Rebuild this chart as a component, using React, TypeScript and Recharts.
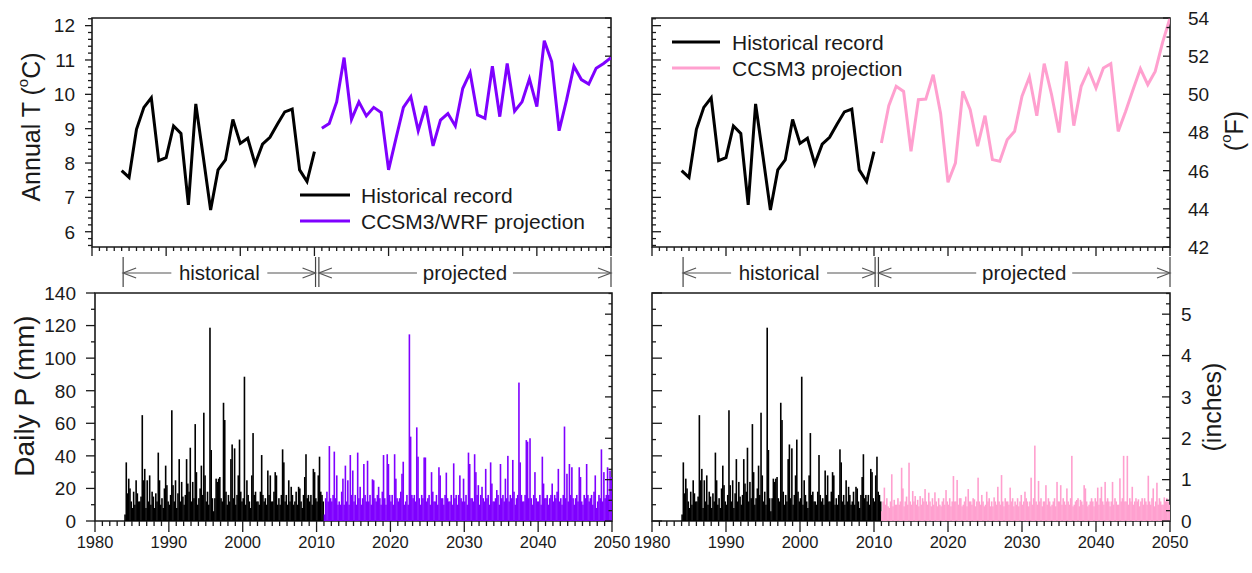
import React from 'react';
import {
  ComposedChart,
  Line,
  Bar,
  XAxis,
  YAxis,
  ReferenceArea,
  ReferenceLine,
  ReferenceDot,
  Legend,
} from 'recharts';

const FONT = "'Liberation Sans', Arial, Helvetica, sans-serif";
const INK = '#1a1a1a';
const BLACK = '#000000';
const PURPLE = '#7F00FF';
const PINK = '#FFA0CF';

// ---------------- data: annual temperature ----------------
const histYears = [1984, 1985, 1986, 1987, 1988, 1989, 1990, 1991, 1992, 1993, 1994, 1995, 1996, 1997, 1998, 1999, 2000, 2001, 2002, 2003, 2004, 2005, 2006, 2007, 2008, 2009, 2010];
const histT = [7.78, 7.58, 8.98, 9.62, 9.9, 8.07, 8.16, 9.08, 8.86, 6.78, 9.72, 8.19, 6.63, 7.8, 8.09, 9.27, 8.57, 8.72, 7.97, 8.55, 8.75, 9.13, 9.49, 9.57, 7.8, 7.46, 8.33];

const projYears = [2011, 2012, 2013, 2014, 2015, 2016, 2017, 2018, 2019, 2020, 2021, 2022, 2023, 2024, 2025, 2026, 2027, 2028, 2029, 2030, 2031, 2032, 2033, 2034, 2035, 2036, 2037, 2038, 2039, 2040, 2041, 2042, 2043, 2044, 2045, 2046, 2047, 2048, 2049, 2050];
// CCSM3/WRF projection, deg C
const wrfT = [9.01, 9.15, 9.78, 11.07, 9.27, 9.78, 9.37, 9.62, 9.47, 7.8, 8.72, 9.62, 9.93, 8.94, 9.66, 8.5, 9.25, 9.44, 9.08, 10.17, 10.63, 9.4, 9.3, 10.82, 9.35, 10.9, 9.51, 9.78, 10.45, 9.64, 11.56, 10.95, 8.94, 9.83, 10.82, 10.43, 10.3, 10.76, 10.9, 11.07];
// CCSM3 projection, deg F
const ccsmF = [47.45, 49.4, 50.42, 50.15, 47.01, 49.72, 49.75, 51.03, 49.0, 45.39, 46.4, 50.16, 49.2, 47.28, 48.88, 46.58, 46.49, 47.62, 48.06, 49.9, 50.91, 48.88, 51.61, 49.98, 48.0, 51.73, 48.36, 50.42, 51.29, 50.33, 51.38, 51.61, 48.06, 49.1, 50.24, 51.34, 50.51, 51.2, 52.72, 54.0];

// ---------------- data: daily precipitation (bi-monthly peaks, mm) ----------------
const SLOTS_PER_YEAR = 6;
const histPStart = 1984;
const histP = [
  4, 36, 17, 26, 20, 12,
  8, 18, 10, 25, 17, 12,
  12, 15, 65, 25, 32, 8,
  25, 12, 28, 10, 18, 15,
  8, 17, 12, 42, 25, 10,
  14, 8, 20, 34, 22, 12,
  10, 16, 68, 22, 12, 25,
  8, 17, 38, 12, 24, 15,
  10, 16, 38, 23, 18, 45,
  12, 24, 14, 59.5, 30, 10,
  14, 20, 34, 16, 66.5, 28,
  12, 18, 10, 118.7, 43.6, 14,
  6, 14, 26, 24, 26, 27,
  14, 12, 72.6, 62, 18, 10,
  16, 12, 38, 47, 14, 44.6,
  10, 16, 28, 50, 18, 12,
  14, 88.6, 10, 25, 16, 12,
  8, 28, 54, 16, 18, 12,
  12, 10, 18, 40.5, 16, 12,
  14, 10, 31, 16, 28, 12,
  12, 18, 30, 28, 10, 14,
  10, 16, 44, 36, 12, 16,
  10, 25, 12, 21, 16, 10,
  12, 18, 10, 21, 20, 12,
  8, 16, 27, 41, 14, 16,
  12, 16, 10, 32, 30, 14,
  12, 28, 39.5, 18, 16, 12,
];
const projPStart = 2011;
const wrfP = [
  4, 14, 18, 12, 46, 14,
  12, 16, 42.6, 14, 28, 10,
  12, 10, 18, 26, 10, 34,
  12, 25, 10, 40.5, 16, 31,
  12, 16, 10, 42, 14, 21,
  10, 14, 35, 16, 12, 37,
  12, 16, 10, 25.6, 25, 14,
  12, 16, 21, 14, 10, 18,
  40.5, 14, 10, 41, 35, 16,
  12, 16, 10, 41, 26, 14,
  12, 14, 18, 29, 36.4, 10,
  12, 16, 10, 114.6, 51.8, 16,
  14, 16, 12, 57.5, 39.5, 14,
  10, 16, 14, 39, 39, 12,
  14, 16, 10, 30, 18, 12,
  12, 16, 10, 33, 28, 14,
  14, 10, 16, 29.7, 14, 12,
  12, 16, 10, 35.4, 14, 16,
  10, 16, 28, 14, 12, 26,
  12, 16, 10, 42, 35, 14,
  14, 12, 41, 30, 16, 22,
  10, 16, 21, 14, 12, 32,
  14, 16, 10, 36, 23, 12,
  12, 14, 19, 16, 10, 35,
  14, 16, 12, 26, 14, 40,
  12, 16, 14, 37.5, 18, 10,
  14, 16, 85, 36, 16, 12,
  12, 16, 49.7, 48.7, 14, 50.8,
  14, 10, 16, 30, 14, 12,
  12, 16, 10, 39.5, 23, 14,
  14, 16, 10, 14, 16, 23,
  12, 16, 14, 18, 32, 12,
  14, 10, 16, 58, 14, 29,
  12, 35, 16, 33, 14, 10,
  14, 16, 12, 33, 27, 12,
  10, 16, 14, 35, 16, 12,
  14, 16, 10, 18, 28, 8,
  12, 16, 14, 44, 12, 30,
  14, 16, 33, 16, 31, 27,
];
const ccsmP = [
  6, 12, 20.5, 10, 14, 9,
  8, 12, 28.7, 9, 13, 10,
  10, 14, 10, 12, 32.7, 20,
  9, 12, 15, 10, 35.8, 12,
  10, 18.4, 12, 15.3, 10, 13,
  9, 15.3, 10, 14, 12, 19.6,
  12, 10, 17.4, 12, 9, 14,
  10, 17.6, 12, 9, 14, 10,
  9, 12, 14, 10, 19, 12,
  10, 14, 9, 12, 27.6, 12,
  12, 25.2, 10, 14, 14, 9,
  10, 12, 15, 9, 19.6, 12,
  12, 10, 14, 13.3, 9, 12,
  26.6, 12, 10, 16, 12, 9,
  10, 18, 12, 14, 9, 12,
  9, 14.5, 12, 10, 21, 12,
  10, 28.2, 12, 9, 14, 12,
  12, 10, 20.5, 12, 14, 9,
  12, 10, 14, 9, 12, 16,
  10, 12, 18, 14, 12, 9,
  12, 26.6, 10, 14, 46.3, 12,
  10, 24.6, 12, 14, 9, 12,
  12, 22, 10, 14, 12, 9,
  10, 12, 14, 9, 24, 12,
  12, 22, 10, 14, 12, 10,
  20, 12, 10, 14, 40, 9,
  10, 12, 12.9, 14, 9, 13,
  12, 10, 22, 20, 12, 9,
  10, 12, 14, 12, 9, 14,
  12, 20.5, 10, 14, 21, 12,
  10, 24, 12, 14, 12, 9,
  12, 24, 10, 14, 12, 10,
  10, 26.2, 12, 14, 40, 12,
  12, 40, 10, 14, 12, 21,
  10, 12, 14, 12, 13.3, 9,
  12, 14, 10, 14, 12, 10,
  27.8, 12, 10, 14, 20, 9,
  12, 23.5, 10, 14, 12, 10,
  10, 14.5, 12, 14, 12, 10,
];

// ---------------- annotations & tick labels ----------------
const periodLabels = ['historical', 'projected'];
const periodStart = [1984.2, 2010.6];
const periodEnd = [2010.15, 2050];

const decadeLabels = [1980, 1990, 2000, 2010, 2020, 2030, 2040, 2050];
const tempCLabels = [6, 7, 8, 9, 10, 11, 12];
const tempFLabels = [42, 44, 46, 48, 50, 52, 54];
const mmLabels = [0, 20, 40, 60, 80, 100, 120, 140];
const inchLabels = [0, 1, 2, 3, 4, 5];

const leftLegendOrder = ['Historical record', 'CCSM3/WRF projection'];
const rightLegendOrder = ['Historical record', 'CCSM3 projection'];

// ---------------- derived tables ----------------
const fToC = (f: number) => ((f - 32) * 5) / 9;
const X_DOMAIN: [number, number] = [1980, 2050];
const C_DOMAIN: [number, number] = [fToC(42), fToC(54)];
const F_DOMAIN: [number, number] = [42, 54];
const MM_DOMAIN: [number, number] = [0, 140];
const IN_DOMAIN: [number, number] = [0, 140 / 25.4];

const steps = (a: number, b: number, s: number) => {
  const out: number[] = [];
  for (let i = 0; a + i * s <= b + 1e-9; i++) out.push(Math.round((a + i * s) * 1000) / 1000);
  return out;
};
const yearTicks = steps(1980, 2050, 1);
const cTicks = steps(5.6, 12.2, 0.2);
const fTicks = steps(42, 54, 0.5);
const mmTicks = steps(0, 140, 10);
const inTicks = steps(0, 5.5, 0.25);
const isIn = (list: number[]) => (v: number) => list.some((l) => Math.abs(l - v) < 1e-6);

const histTData = histYears.map((year, i) => ({ year, T: histT[i] }));
const wrfTData = projYears.map((year, i) => ({ year, T: wrfT[i] }));
const ccsmTData = projYears.map((year, i) => ({ year, F: ccsmF[i] }));

const toBars = (start: number, values: number[], key: string) =>
  values.map((v, i) => ({
    t: start + Math.floor(i / SLOTS_PER_YEAR) + ((i % SLOTS_PER_YEAR) + 0.5) / SLOTS_PER_YEAR,
    [key]: v,
  }));
const bottomLeftData = [...toBars(histPStart, histP, 'hist'), ...toBars(projPStart, wrfP, 'proj')];
const bottomRightData = [...toBars(histPStart, histP, 'hist'), ...toBars(projPStart, ccsmP, 'proj')];
const annotData = periodStart.map((t) => ({ t }));

// ---------------- rendering helpers ----------------
type TickCfg = {
  side: 'left' | 'right' | 'bottom';
  inward: boolean;
  major: number;
  minor: number;
  isMajor: (v: number) => boolean;
  label?: boolean;
  gap?: number;
  fontSize?: number;
};
const makeTick = (c: TickCfg) => (props: any) => {
  const { x, y, payload } = props;
  const v = Number(payload?.value);
  const big = c.isMajor(v);
  const len = big ? c.major : c.minor;
  const show = !!c.label && big;
  const fs = c.fontSize ?? 19;
  const gap = c.gap ?? 10;
  const tp = { fontSize: fs, fontFamily: FONT, fill: INK, stroke: 'none' } as any;
  if (c.side === 'bottom') {
    return (
      <g>
        <line x1={x} y1={y} x2={x} y2={c.inward ? y - len : y + len} stroke={INK} strokeWidth={1.3} />
        {show && (
          <text x={x} y={y + gap} textAnchor="middle" {...tp}>
            {v}
          </text>
        )}
      </g>
    );
  }
  if (c.side === 'left') {
    return (
      <g>
        <line x1={x} y1={y} x2={c.inward ? x + len : x - len} y2={y} stroke={INK} strokeWidth={1.3} />
        {show && (
          <text x={x - gap} y={y} dy="0.36em" textAnchor="end" {...tp}>
            {v}
          </text>
        )}
      </g>
    );
  }
  return (
    <g>
      <line x1={x} y1={y} x2={c.inward ? x - len : x + len} y2={y} stroke={INK} strokeWidth={1.3} />
      {show && (
        <text x={x + gap} y={y} dy="0.36em" textAnchor="start" {...tp}>
          {v}
        </text>
      )}
    </g>
  );
};

const axisCommon = {
  tickLine: false,
  axisLine: false,
  tickSize: 0,
  tickMargin: 0,
  interval: 0 as const,
  allowDataOverflow: true,
  type: 'number' as const,
};

const titleLabel = (parts: React.ReactNode, dx: number, dy: number, fontSize = 25) => (props: any) => {
  const vb = props?.viewBox || { x: 0, y: 0, width: 0, height: 0 };
  const cx = vb.x + dx;
  const cy = vb.y + vb.height / 2 + dy;
  return (
    <text
      x={cx}
      y={cy}
      transform={`rotate(-90 ${cx} ${cy})`}
      textAnchor="middle"
      dominantBaseline="central"
      fontSize={fontSize}
      fontFamily={FONT}
      fill={INK}
    >
      {parts}
    </text>
  );
};
const sup = (ch: string, rest: string) => [
  <tspan key="s" fontSize={15} dy={-9}>
    {ch}
  </tspan>,
  <tspan key="r" dy={9}>
    {rest}
  </tspan>,
];

const legendContent = (order: string[], sample: number, textX: number, rowH: number) => (props: any) => {
  const items = ([...(props?.payload || [])] as any[]).sort(
    (a, b) => order.indexOf(String(a.value)) - order.indexOf(String(b.value))
  );
  return (
    <svg width={320} height={rowH * items.length + 10} style={{ overflow: 'visible', display: 'block' }}>
      {items.map((it, i) => (
        <g key={i}>
          <line x1={0} x2={sample} y1={12 + i * rowH} y2={12 + i * rowH} stroke={it.color} strokeWidth={3} />
          <text x={textX} y={12 + i * rowH} dy="0.36em" fontSize={21} fontFamily={FONT} fill={INK}>
            {it.value}
          </text>
        </g>
      ))}
    </svg>
  );
};

// widen each spike slightly so neighbouring days merge into a solid body
const SpikeBar = (p: any) => {
  const h = Math.abs(Number(p.height) || 0);
  if (!h) return <g />;
  const w = Math.max(Number(p.width) || 0, 1.6);
  const cx = p.x + (p.width || 0) / 2;
  return <rect x={cx - w / 2} y={Math.min(p.y, p.y + p.height)} width={w} height={h} fill={p.fill} />;
};

const ArrowShape = (p: any) => {
  const { x1, y1, x2, y2 } = p;
  const w = 13;
  const h = 5;
  return (
    <g stroke="#555" strokeWidth={1.2} fill="none">
      <line x1={x1} y1={y1} x2={x2} y2={y2} />
      <polyline points={`${x1 + w},${y1 - h} ${x1},${y1} ${x1 + w},${y1 + h}`} />
      <polyline points={`${x2 - w},${y2 - h} ${x2},${y2} ${x2 - w},${y2 + h}`} />
    </g>
  );
};
const periodText = (label: string) => (p: any) => (
  <g>
    <rect x={p.cx - 48} y={p.cy - 12} width={96} height={24} fill="#fff" stroke="none" />
    <text x={p.cx} y={p.cy} dy="0.33em" textAnchor="middle" fontSize={20.5} fontFamily={FONT} fill={INK}>
      {label}
    </text>
  </g>
);

const ANN_BAR: [number, number] = [0.086, 0.943];
const ANN_ARROW = 0.486;

const AnnotationStrip = ({ width, left, right }: { width: number; left: number; right: number }) => (
  <ComposedChart width={width} height={35} data={annotData} margin={{ top: 0, right, bottom: 0, left }}>
    <XAxis dataKey="t" type="number" domain={X_DOMAIN} hide allowDataOverflow />
    <YAxis type="number" domain={[0, 1]} hide allowDataOverflow />
    {periodLabels.map((lab, i) => (
      <React.Fragment key={lab}>
        <ReferenceLine
          ifOverflow="visible"
          segment={[
            { x: periodStart[i], y: ANN_BAR[0] },
            { x: periodStart[i], y: ANN_BAR[1] },
          ]}
          stroke="#444"
          strokeWidth={1.2}
        />
        <ReferenceLine
          ifOverflow="visible"
          segment={[
            { x: periodEnd[i], y: ANN_BAR[0] },
            { x: periodEnd[i], y: ANN_BAR[1] },
          ]}
          stroke="#444"
          strokeWidth={1.2}
        />
        <ReferenceLine
          ifOverflow="visible"
          segment={[
            { x: periodStart[i], y: ANN_ARROW },
            { x: periodEnd[i], y: ANN_ARROW },
          ]}
          shape={ArrowShape}
        />
        <ReferenceDot
          ifOverflow="visible"
          x={(periodStart[i] + periodEnd[i]) / 2}
          y={ANN_ARROW}
          r={1}
          shape={periodText(lab)}
        />
      </React.Fragment>
    ))}
  </ComposedChart>
);

const isDecade = isIn(decadeLabels);
const isCMajor = isIn(tempCLabels);
const isFMajor = isIn(tempFLabels);
const isMmMajor = isIn(mmLabels);
const isInMajor = isIn(inchLabels);

const frameStyle = { fill: 'none', fillOpacity: 0, stroke: INK, strokeWidth: 1.6 } as any;

const TopLeft = () => (
  <ComposedChart width={640} height={258} margin={{ top: 18, right: 0, bottom: 0, left: 0 }}>
    <XAxis
      dataKey="year"
      domain={X_DOMAIN}
      ticks={yearTicks}
      height={11}
      tick={makeTick({ side: 'bottom', inward: false, major: 9, minor: 4, isMajor: isDecade })}
      {...axisCommon}
    />
    <YAxis
      yAxisId="c"
      orientation="left"
      width={92}
      domain={C_DOMAIN}
      ticks={cTicks}
      tick={makeTick({ side: 'left', inward: false, major: 7, minor: 4, isMajor: isCMajor, label: true, gap: 17 })}
      label={titleLabel(['Annual T (', ...sup('o', 'C)')], 31, -5.5)}
      {...axisCommon}
    />
    <YAxis
      yAxisId="f"
      orientation="right"
      width={29}
      domain={F_DOMAIN}
      ticks={fTicks}
      tick={makeTick({ side: 'right', inward: true, major: 6, minor: 3.5, isMajor: isFMajor })}
      {...axisCommon}
    />
    <ReferenceArea yAxisId="c" x1={X_DOMAIN[0]} x2={X_DOMAIN[1]} y1={C_DOMAIN[0]} y2={C_DOMAIN[1]} ifOverflow="visible" {...frameStyle} />
    <Line yAxisId="c" data={histTData} dataKey="T" name="Historical record" stroke={BLACK} strokeWidth={3} dot={false} isAnimationActive={false} />
    <Line yAxisId="c" data={wrfTData} dataKey="T" name="CCSM3/WRF projection" stroke={PURPLE} strokeWidth={3} dot={false} isAnimationActive={false} />
    <Legend
      layout="vertical"
      align="center"
      verticalAlign="middle"
      content={legendContent(leftLegendOrder, 50, 61, 26)}
      wrapperStyle={{ left: 300, top: 183, width: 320, height: 60 }}
    />
  </ComposedChart>
);

const TopRight = () => (
  <ComposedChart width={632} height={258} margin={{ top: 18, right: 0, bottom: 0, left: 0 }}>
    <XAxis
      dataKey="year"
      domain={X_DOMAIN}
      ticks={yearTicks}
      height={11}
      tick={makeTick({ side: 'bottom', inward: false, major: 9, minor: 4, isMajor: isDecade })}
      {...axisCommon}
    />
    <YAxis
      yAxisId="c"
      orientation="left"
      width={32}
      domain={C_DOMAIN}
      ticks={cTicks}
      tick={makeTick({ side: 'left', inward: true, major: 9, minor: 4, isMajor: isCMajor })}
      {...axisCommon}
    />
    <YAxis
      yAxisId="f"
      orientation="right"
      width={82}
      domain={F_DOMAIN}
      ticks={fTicks}
      tick={makeTick({ side: 'right', inward: true, major: 7, minor: 3.5, isMajor: isFMajor, label: true, gap: 18 })}
      label={titleLabel(['(', ...sup('o', 'F)')], 64, -1.5)}
      {...axisCommon}
    />
    <ReferenceArea yAxisId="c" x1={X_DOMAIN[0]} x2={X_DOMAIN[1]} y1={C_DOMAIN[0]} y2={C_DOMAIN[1]} ifOverflow="visible" {...frameStyle} />
    <Line yAxisId="c" data={histTData} dataKey="T" name="Historical record" stroke={BLACK} strokeWidth={3} dot={false} isAnimationActive={false} />
    <Line yAxisId="f" data={ccsmTData} dataKey="F" name="CCSM3 projection" stroke={PINK} strokeWidth={3} dot={false} isAnimationActive={false} />
    <Legend
      layout="vertical"
      align="center"
      verticalAlign="middle"
      content={legendContent(rightLegendOrder, 48, 60, 26)}
      wrapperStyle={{ left: 52, top: 30, width: 320, height: 60 }}
    />
  </ComposedChart>
);

const BottomPanel = ({ data, color, right }: { data: any[]; color: string; right: boolean }) => (
  <ComposedChart
    width={right ? 632 : 640}
    height={298}
    data={data}
    margin={{ top: 18, right: 0, bottom: 0, left: 0 }}
    barCategoryGap={0}
    barGap={0}
  >
    <XAxis
      dataKey="t"
      domain={X_DOMAIN}
      ticks={yearTicks}
      height={52}
      tick={makeTick({ side: 'bottom', inward: false, major: 11, minor: 5, isMajor: isDecade, label: true, gap: 27, fontSize: 16.5 })}
      {...axisCommon}
    />
    <YAxis
      yAxisId="mm"
      orientation="left"
      width={right ? 32 : 95}
      domain={MM_DOMAIN}
      ticks={mmTicks}
      tick={makeTick(
        right
          ? { side: 'left', inward: true, major: 10, minor: 4, isMajor: isMmMajor }
          : { side: 'left', inward: false, major: 9, minor: 4, isMajor: isMmMajor, label: true, gap: 19 }
      )}
      label={right ? undefined : titleLabel('Daily P (mm)', 24, -11, 28)}
      {...axisCommon}
    />
    <YAxis
      yAxisId="in"
      orientation="right"
      width={right ? 82 : 28}
      domain={IN_DOMAIN}
      ticks={inTicks}
      tick={makeTick(
        right
          ? { side: 'right', inward: true, major: 8, minor: 4, isMajor: isInMajor, label: true, gap: 11 }
          : { side: 'right', inward: true, major: 7, minor: 3.5, isMajor: isInMajor }
      )}
      label={right ? titleLabel('(inches)', 42, 0, 25) : undefined}
      {...axisCommon}
    />
    <Bar yAxisId="mm" dataKey="hist" stackId="p" fill={BLACK} shape={SpikeBar} isAnimationActive={false} />
    <Bar yAxisId="mm" dataKey="proj" stackId="p" fill={color} shape={SpikeBar} isAnimationActive={false} />
    <ReferenceArea yAxisId="mm" x1={X_DOMAIN[0]} x2={X_DOMAIN[1]} y1={MM_DOMAIN[0]} y2={MM_DOMAIN[1]} ifOverflow="visible" {...frameStyle} />
  </ComposedChart>
);

export default function App() {
  return (
    <div
      style={{
        position: 'absolute',
        left: 0,
        top: 0,
        width: 1252,
        height: 573,
        background: '#fff',
        overflow: 'hidden',
        fontFamily: FONT,
      }}
    >
      <div style={{ position: 'absolute', left: 0, top: 0 }}>
        <TopLeft />
      </div>
      <div style={{ position: 'absolute', left: 620, top: 0 }}>
        <TopRight />
      </div>
      <div style={{ position: 'absolute', left: 0, top: 255 }}>
        <AnnotationStrip width={640} left={92} right={29} />
      </div>
      <div style={{ position: 'absolute', left: 620, top: 255 }}>
        <AnnotationStrip width={632} left={32} right={82} />
      </div>
      <div style={{ position: 'absolute', left: 0, top: 275 }}>
        <BottomPanel data={bottomLeftData} color={PURPLE} right={false} />
      </div>
      <div style={{ position: 'absolute', left: 620, top: 275 }}>
        <BottomPanel data={bottomRightData} color={PINK} right={true} />
      </div>
    </div>
  );
}
